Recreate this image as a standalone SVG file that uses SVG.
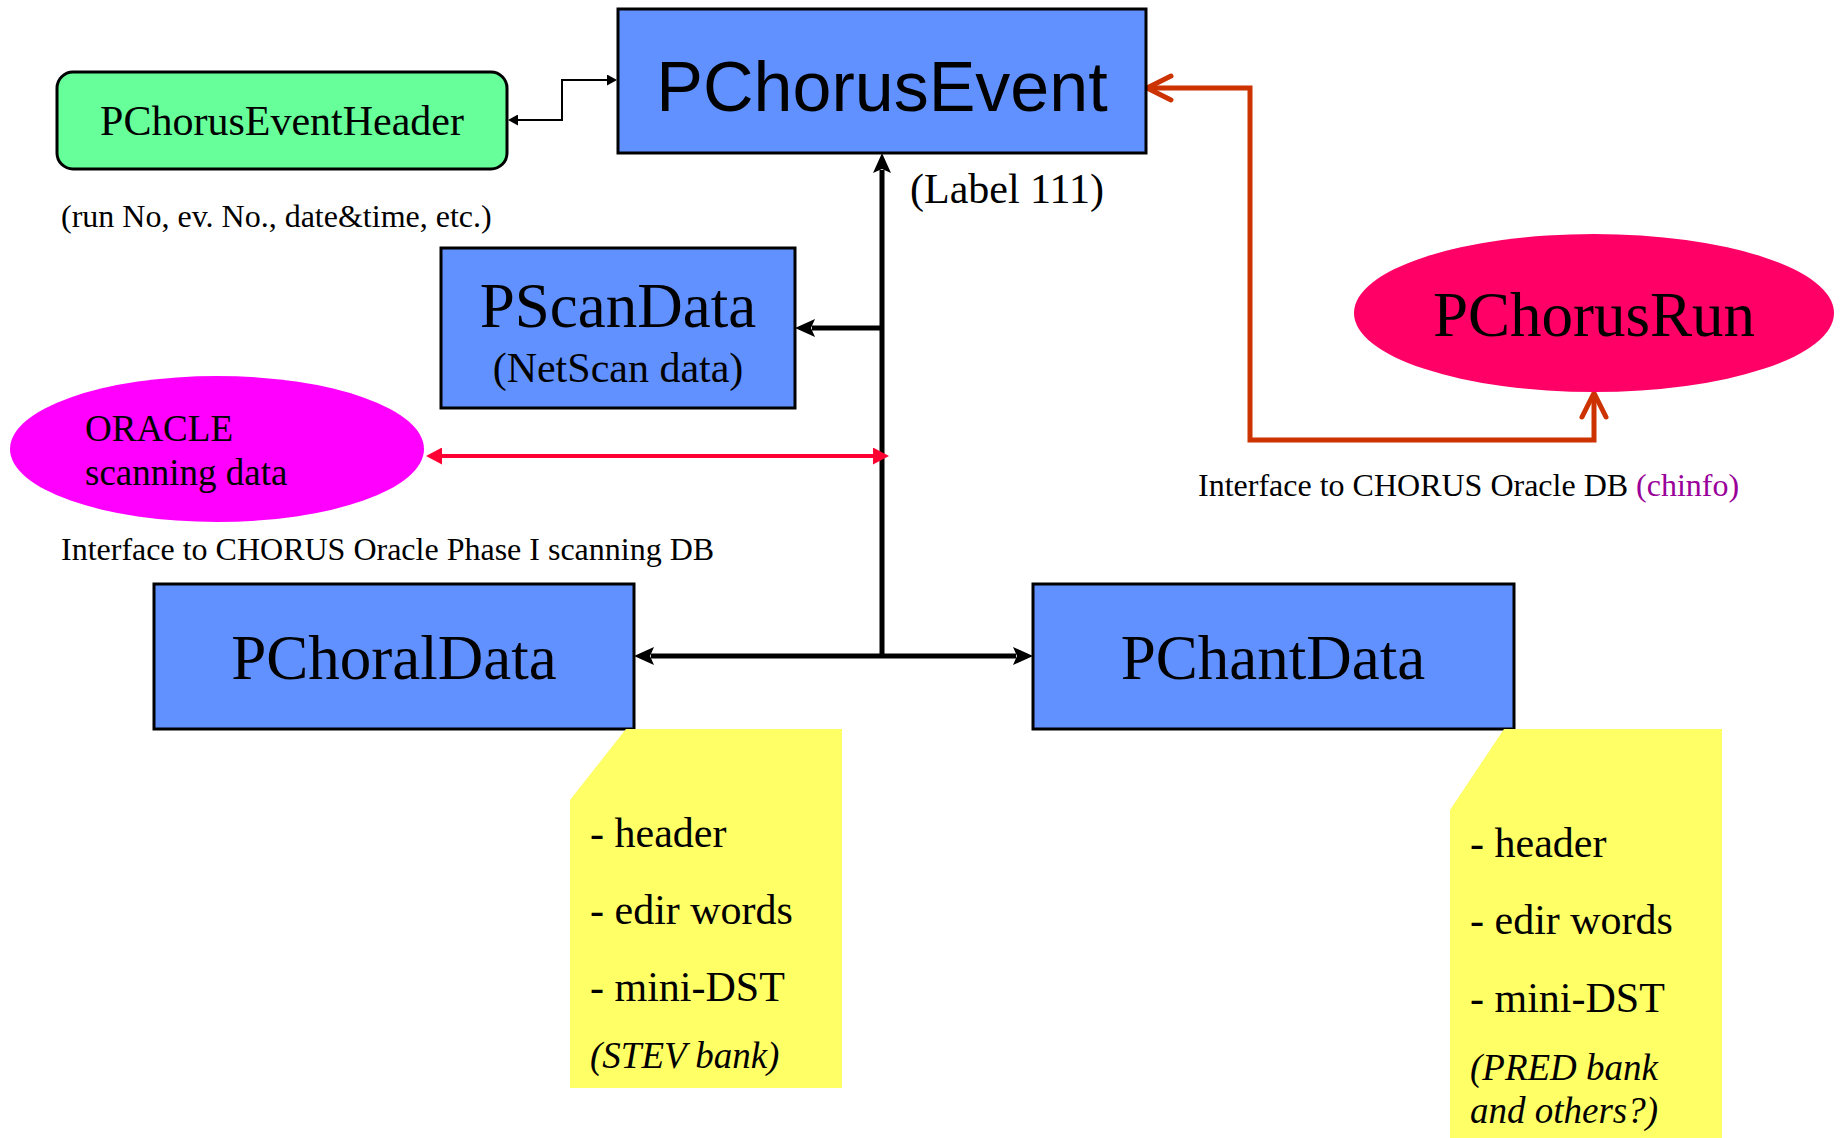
<svg xmlns="http://www.w3.org/2000/svg" width="1841" height="1138" viewBox="0 0 1841 1138">
  <style>
    .box { fill: #6190FF; stroke: #000; stroke-width: 3; }
    .serif { font-family: "Liberation Serif", "Times New Roman", serif; fill: #000; }
    .sans { font-family: "Liberation Sans", Arial, sans-serif; fill: #000; }
    .note { fill: #FFFF66; }
    .thick { fill: none; stroke: #000; stroke-width: 5; }
    .thin { fill: none; stroke: #000; stroke-width: 2; }
    .red { fill: none; stroke: #FF0033; stroke-width: 4; }
    .orange { fill: none; stroke: #CC3300; stroke-width: 5; }
  </style>
  <defs>
    <marker id="arrowBlk" viewBox="0 0 20 18" refX="3" refY="9" markerWidth="20" markerHeight="18" markerUnits="userSpaceOnUse" orient="auto-start-reverse">
      <path d="M0,0 L20,9 L0,18 L4,9 z" fill="#000"/>
    </marker>
    <marker id="arrowThin" viewBox="0 0 10 11" refX="1" refY="5.5" markerWidth="10" markerHeight="11" markerUnits="userSpaceOnUse" orient="auto-start-reverse">
      <path d="M0,0 L10,5.5 L0,11 z" fill="#000"/>
    </marker>
    <marker id="arrowRed" viewBox="0 0 16 17" refX="2" refY="8.5" markerWidth="16" markerHeight="17" markerUnits="userSpaceOnUse" orient="auto-start-reverse">
      <path d="M0,0 L16,8.5 L0,17 z" fill="#FF0033"/>
    </marker>
    <marker id="chevOrange" viewBox="-4 -2 32 32" refX="21" refY="14" markerWidth="32" markerHeight="32" markerUnits="userSpaceOnUse" orient="auto-start-reverse" overflow="visible">
      <path d="M0,2 L24,14 L0,26" fill="none" stroke="#CC3300" stroke-width="5" stroke-linecap="round" stroke-linejoin="round"/>
    </marker>
  </defs>

  <!-- connectors -->
  <g id="connectors">
    <path class="thin" d="M517,120 H562 V80 H608" marker-start="url(#arrowThin)" marker-end="url(#arrowThin)"/>
    <path class="thick" d="M882,656 V170" marker-end="url(#arrowBlk)"/>
    <path class="thick" d="M882,328 H812" marker-end="url(#arrowBlk)"/>
    <path class="thick" d="M651,656 H1016" marker-start="url(#arrowBlk)" marker-end="url(#arrowBlk)"/>
    <path class="red" d="M440,456 H875" marker-start="url(#arrowRed)" marker-end="url(#arrowRed)"/>
    <path class="orange" d="M1150,88 H1250 V440 H1594 V396" marker-start="url(#chevOrange)" marker-end="url(#chevOrange)"/>
  </g>

  <!-- event header -->
  <g id="node-header">
    <rect x="57" y="72" width="450" height="97" rx="16" ry="16" fill="#66FF99" stroke="#000" stroke-width="3"/>
    <text class="serif" x="282" y="135" font-size="42" text-anchor="middle">PChorusEventHeader</text>
    <text class="serif" x="61" y="227" font-size="32">(run No, ev. No., date&amp;time, etc.)</text>
  </g>

  <!-- event -->
  <g id="node-event">
    <rect class="box" x="618" y="9" width="528" height="144"/>
    <text class="sans" x="882" y="111" font-size="70" text-anchor="middle">PChorusEvent</text>
    <text class="serif" x="910" y="203" font-size="42">(Label 111)</text>
  </g>

  <!-- scan data -->
  <g id="node-scan">
    <rect class="box" x="441" y="248" width="354" height="160"/>
    <text class="serif" x="618" y="327" font-size="63" text-anchor="middle">PScanData</text>
    <text class="serif" x="618" y="382" font-size="42" text-anchor="middle">(NetScan data)</text>
  </g>

  <!-- oracle scanning db -->
  <g id="node-oracle">
    <ellipse cx="217" cy="449" rx="207" ry="73" fill="#FF00FF"/>
    <text class="serif" x="85" y="441" font-size="37">ORACLE</text>
    <text class="serif" x="85" y="485" font-size="37">scanning data</text>
    <text class="serif" x="61" y="560" font-size="32">Interface to CHORUS Oracle Phase I scanning DB</text>
  </g>

  <!-- run -->
  <g id="node-run">
    <ellipse cx="1594" cy="313" rx="240" ry="79" fill="#FF0066"/>
    <text class="serif" x="1594" y="336" font-size="63" text-anchor="middle">PChorusRun</text>
    <text class="serif" x="1198" y="496" font-size="32">Interface to CHORUS Oracle DB <tspan fill="#990099">(chinfo)</tspan></text>
  </g>

  <!-- choral data -->
  <g id="node-choral">
    <rect class="box" x="154" y="584" width="480" height="145"/>
    <text class="serif" x="394" y="679" font-size="63" text-anchor="middle">PChoralData</text>
  </g>

  <!-- chant data -->
  <g id="node-chant">
    <rect class="box" x="1033" y="584" width="481" height="145"/>
    <text class="serif" x="1273" y="679" font-size="63" text-anchor="middle">PChantData</text>
  </g>

  <!-- note for choral data -->
  <g id="note-choral">
    <polygon class="note" points="626,729 842,729 842,1088 570,1088 570,800"/>
    <text class="serif" x="590" y="847" font-size="42">- header</text>
    <text class="serif" x="590" y="924" font-size="42">- edir words</text>
    <text class="serif" x="590" y="1001" font-size="42">- mini-DST</text>
    <text class="serif" x="590" y="1068" font-size="37" font-style="italic">(STEV bank)</text>
  </g>

  <!-- note for chant data -->
  <g id="note-chant">
    <polygon class="note" points="1504,729 1722,729 1722,1138 1450,1138 1450,810"/>
    <text class="serif" x="1470" y="857" font-size="42">- header</text>
    <text class="serif" x="1470" y="934" font-size="42">- edir words</text>
    <text class="serif" x="1470" y="1012" font-size="42">- mini-DST</text>
    <text class="serif" x="1470" y="1080" font-size="37" font-style="italic">(PRED bank</text>
    <text class="serif" x="1470" y="1123" font-size="37" font-style="italic">and others?)</text>
  </g>
</svg>
